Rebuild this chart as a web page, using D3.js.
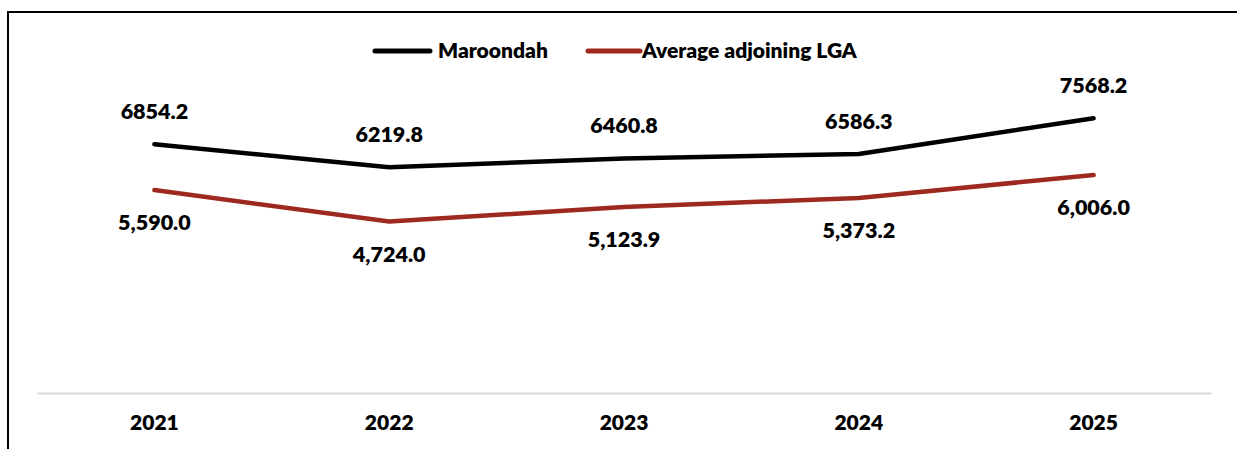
<!DOCTYPE html>
<html>
<head>
<meta charset="utf-8">
<script src="https://cdn.jsdelivr.net/npm/d3@7"></script>
<style>
  html, body { margin: 0; padding: 0; background: #fff; overflow: hidden; }
  svg { display: block; }
  text { font-family: Lato, "Open Sans", sans-serif; font-weight: 800; fill: #000; }
</style>
</head>
<body>
<svg id="chart" width="1237" height="449"></svg>
<script>
// Years along the category axis
const years = ["2021", "2022", "2023", "2024", "2025"];
// Series values
const maroondah = [6854.2, 6219.8, 6460.8, 6586.3, 7568.2];
const avgAdjoining = [5590.0, 4724.0, 5123.9, 5373.2, 6006.0];
// Series names and colours
const seriesNames = ["Maroondah", "Average adjoining LGA"];
const seriesColors = ["#000000", "#9e2a1f"];

const W = 1237, H = 449;
const svg = d3.select("#chart");

// Outer frame (runs past the right and bottom edges)
svg.append("rect")
  .attr("x", 8).attr("y", 12)
  .attr("width", W + 20).attr("height", H + 20)
  .attr("fill", "none").attr("stroke", "#000").attr("stroke-width", 2);

const plot = { left: 37, right: 1211, top: 30, bottom: 393 };

const x = d3.scaleBand().domain(years).range([plot.left, plot.right]);
const y = d3.scaleLinear().domain([0, 10000]).range([plot.bottom, plot.top]);
const cx = d => x(d) + x.bandwidth() / 2;

// Category axis
const xAxis = svg.append("g")
  .attr("transform", `translate(0,${plot.bottom})`)
  .call(d3.axisBottom(x).tickSize(0).tickPadding(22));
xAxis.select(".domain").attr("stroke", "#d9d9d9").attr("stroke-width", 2);
xAxis.selectAll(".tick text")
  .attr("font-size", 21).attr("font-family", "Lato, sans-serif")
  .attr("font-weight", 800).attr("fill", "#000");

const line = d3.line()
  .x((d, i) => cx(years[i]))
  .y(d => y(d));

const series = [
  { name: seriesNames[0], color: seriesColors[0], values: maroondah, fmt: d3.format(".1f"), above: true },
  { name: seriesNames[1], color: seriesColors[1], values: avgAdjoining, fmt: d3.format(",.1f"), above: false }
];

series.forEach(s => {
  svg.append("path")
    .datum(s.values)
    .attr("d", line)
    .attr("fill", "none")
    .attr("stroke", s.color)
    .attr("stroke-width", 4.5)
    .attr("stroke-linecap", "round")
    .attr("stroke-linejoin", "round");

  svg.append("g").selectAll("text")
    .data(s.values)
    .join("text")
    .attr("x", (d, i) => cx(years[i]))
    .attr("y", d => s.above ? y(d) - 25 : y(d) + 40)
    .attr("text-anchor", "middle")
    .attr("font-size", 21.5)
    .text(d => s.fmt(d));
});

// Legend
const legendItems = [
  { x0: 375, x1: 430, tx: 438 },
  { x0: 588, x1: 640, tx: 642 }
];
const legend = svg.append("g");
series.forEach((s, i) => {
  const L = legendItems[i];
  legend.append("line")
    .attr("x1", L.x0).attr("x2", L.x1)
    .attr("y1", 51).attr("y2", 51)
    .attr("stroke", s.color).attr("stroke-width", 5)
    .attr("stroke-linecap", "round");
  legend.append("text")
    .attr("x", L.tx).attr("y", 58)
    .attr("font-size", 21)
    .text(s.name);
});
</script>
</body>
</html>
